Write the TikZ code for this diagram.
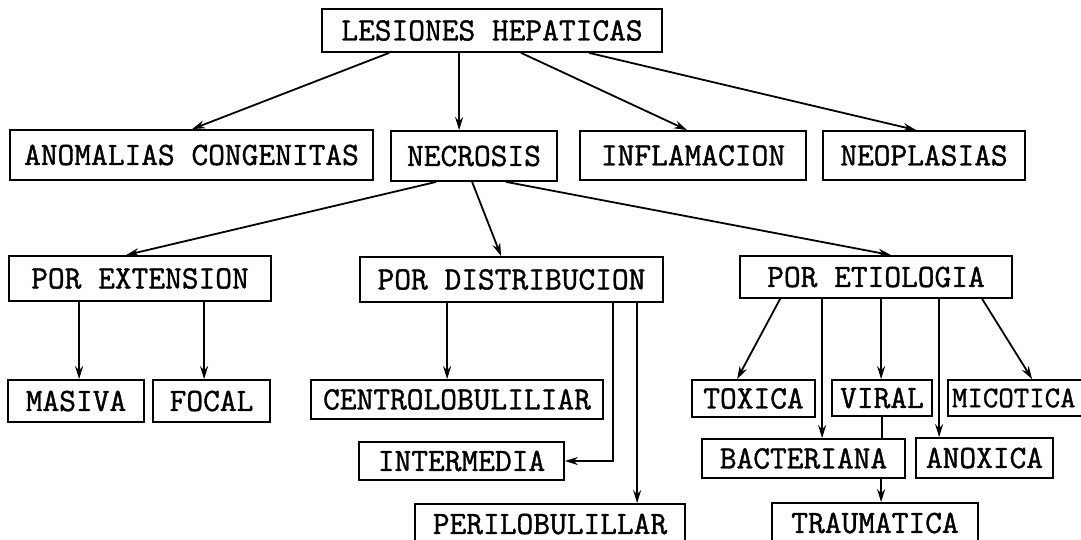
\documentclass[tikz,border=0pt]{standalone}
\usepackage{fontspec}
\newfontfamily\tw[FakeBold=1.2]{Latin Modern Mono}
\usetikzlibrary{arrows.meta}
\begin{document}
\begin{tikzpicture}[x=1pt,y=-1pt,
  bx/.style={draw,line width=1.8pt,inner sep=0pt,font=\tw\fontsize{32.5}{34}\selectfont},
  arr/.style={line width=1.8pt,-{Stealth[length=13pt,width=8pt]}},
  ln/.style={line width=1.8pt}]
\useasboundingbox (0,0) rectangle (1081,540);
\clip (0,0) rectangle (1081,540);
% boxes
\node[bx,minimum width=340pt,minimum height=43pt] (L) at (492,30.5) {LESIONES HEPATICAS};
\node[bx,minimum width=363pt,minimum height=50pt] (ANOM) at (191.5,155) {ANOMALIAS CONGENITAS};
\node[bx,minimum width=166pt,minimum height=50pt] (NECR) at (474,156) {NECROSIS};
\node[bx,minimum width=226pt,minimum height=49pt] (INFL) at (693,155.5) {INFLAMACION};
\node[bx,minimum width=202pt,minimum height=49pt] (NEOP) at (924,155.5) {NEOPLASIAS};
\node[bx,minimum width=262pt,minimum height=45pt] (PEXT) at (140,278.5) {POR EXTENSION};
\node[bx,minimum width=303pt,minimum height=45pt] (PDIST) at (511.5,279.5) {POR DISTRIBUCION};
\node[bx,minimum width=272pt,minimum height=42pt] (PETIO) at (876,277) {POR ETIOLOGIA};
\node[bx,minimum width=136pt,minimum height=42pt] (MASIVA) at (76,401) {MASIVA};
\node[bx,minimum width=117pt,minimum height=42pt] (FOCAL) at (211.5,401) {FOCAL};
\node[bx,minimum width=292pt,minimum height=39pt] (CENTRO) at (457,399.5) {CENTROLOBULILIAR};
\node[bx,minimum width=123pt,minimum height=37pt] (TOXICA) at (753.5,398.5) {TOXICA};
\node[bx,minimum width=100pt,minimum height=36pt] (VIRAL) at (882,398) {VIRAL};
\node[bx,minimum width=147pt,minimum height=36pt,text width=147pt,align=left,font=\tw\fontsize{30}{32}\selectfont] (MICOT) at (1021.5,398) {\hspace*{4pt}MICOTICA};
\node[bx,minimum width=205pt,minimum height=38pt] (INTER) at (461.5,461) {INTERMEDIA};
\node[bx,minimum width=203pt,minimum height=39pt] (BACT) at (803.5,458.5) {BACTERIANA};
\node[bx,minimum width=137pt,minimum height=40pt] (ANOX) at (984.5,458) {ANOXICA};
\node[bx,minimum width=270pt,minimum height=40pt] (PERI) at (550,524) {PERILOBULILLAR};
\node[bx,minimum width=206pt,minimum height=40pt] (TRAUM) at (875,523) {TRAUMATICA};
% connectors
\draw[arr] ([xshift=68pt]L.south west) -- ([xshift=183pt]ANOM.north west);
\draw[arr] ([xshift=138pt]L.south west) -- ([xshift=69pt]NECR.north west);
\draw[arr] ([xshift=200pt]L.south west) -- ([xshift=108pt]INFL.north west);
\draw[arr] ([xshift=268pt]L.south west) -- ([xshift=94pt]NEOP.north west);
\draw[arr] ([xshift=46pt]NECR.south west) -- ([xshift=118pt]PEXT.north west);
\draw[arr] ([xshift=82pt]NECR.south west) -- ([xshift=142pt]PDIST.north west);
\draw[arr] ([xshift=116pt]NECR.south west) -- ([xshift=152pt]PETIO.north west);
\draw[arr] ([xshift=71pt]PEXT.south west) -- ([xshift=72pt]MASIVA.north west);
\draw[arr] ([xshift=196pt]PEXT.south west) -- ([xshift=52pt]FOCAL.north west);
\draw[arr] ([xshift=88pt]PDIST.south west) -- ([xshift=137pt]CENTRO.north west);
\draw[arr] ([xshift=254pt]PDIST.south west) |- (INTER.east);
\draw[arr] ([xshift=278pt]PDIST.south west) -- ([xshift=223pt]PERI.north west);
\draw[arr] ([xshift=41pt]PETIO.south west) -- ([xshift=46pt]TOXICA.north west);
\draw[arr] ([xshift=83pt]PETIO.south west) -- ([xshift=121pt]BACT.north west);
\draw[arr] ([xshift=142pt]PETIO.south west) -- ([xshift=50pt]VIRAL.north west);
\draw[arr] ([xshift=200pt]PETIO.south west) -- ([xshift=24pt]ANOX.north west);
\draw[arr] ([xshift=243pt]PETIO.south west) -- ([xshift=85pt]MICOT.north west);
\draw[ln] ([xshift=51pt]VIRAL.south west) -- ([xshift=181pt]BACT.north west);
\draw[arr] ([xshift=180pt]BACT.south west) -- ([xshift=110pt]TRAUM.north west);
\end{tikzpicture}
\end{document}
